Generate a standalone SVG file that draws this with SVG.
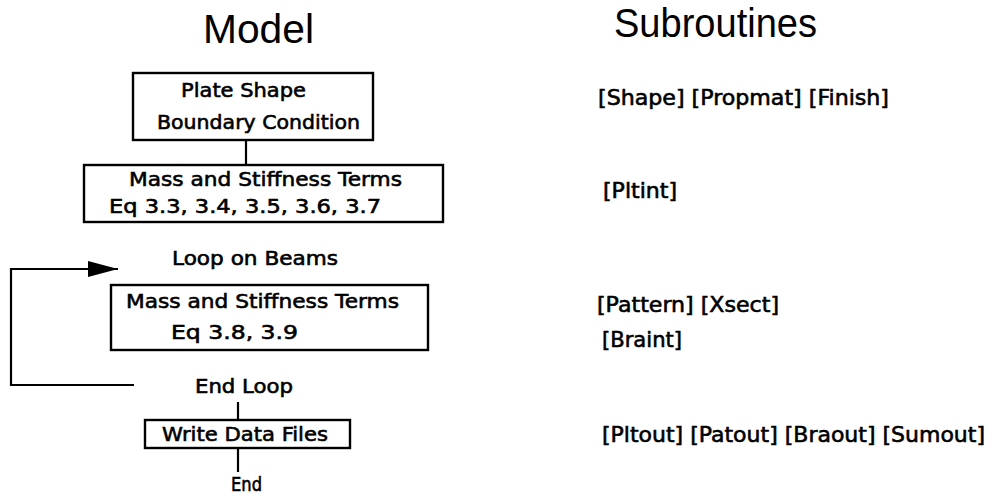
<svg xmlns="http://www.w3.org/2000/svg" width="992" height="496" viewBox="0 0 992 496">
<defs>
<style>
.t{font-family:"DejaVu Sans","Liberation Sans",sans-serif;font-size:20px;fill:#000;stroke:#000;stroke-width:0.6}
.h{font-family:"Liberation Sans","DejaVu Sans",sans-serif;font-size:41px;fill:#000}
.s{font-family:"DejaVu Sans","Liberation Sans",sans-serif;font-size:21px;fill:#000;stroke:#000;stroke-width:0.6}
.box{fill:#fff;stroke:#000;stroke-width:2.4}
.ln{fill:none;stroke:#000;stroke-width:2.2}
</style>
<marker id="ah" markerUnits="userSpaceOnUse" markerWidth="32" markerHeight="16" refX="30" refY="8" orient="auto">
<path d="M0,0 L30,8 L0,16 Z" fill="#000"/>
</marker>
</defs>
<rect width="992" height="496" fill="#fff"/>
<g id="titles">
<text class="h" x="203" y="43" textLength="111" lengthAdjust="spacingAndGlyphs">Model</text>
<text class="h" x="614" y="37" font-size="37" textLength="203" lengthAdjust="spacingAndGlyphs">Subroutines</text>
</g>
<g id="connectors">
<line class="ln" x1="246" y1="140" x2="246" y2="165"/>
<line class="ln" x1="238" y1="402" x2="238" y2="420"/>
<line class="ln" x1="238" y1="448" x2="238" y2="472"/>
<path class="ln" d="M134,385 L11,385 L11,269 L118,269" marker-end="url(#ah)"/>
</g>
<g id="node-plate">
<rect class="box" x="133" y="73" width="240" height="67"/>
<text class="t" x="181" y="97" textLength="125" lengthAdjust="spacingAndGlyphs">Plate Shape</text>
<text class="t" x="157" y="129" textLength="203" lengthAdjust="spacingAndGlyphs">Boundary Condition</text>
</g>
<g id="node-mass1">
<rect class="box" x="84" y="165" width="359" height="57"/>
<text class="t" x="129" y="186" textLength="273" lengthAdjust="spacingAndGlyphs">Mass and Stiffness Terms</text>
<text class="t" x="109" y="213" textLength="272" lengthAdjust="spacingAndGlyphs">Eq 3.3, 3.4, 3.5, 3.6, 3.7</text>
</g>
<g id="node-loop">
<text class="t" x="172" y="265" textLength="166" lengthAdjust="spacingAndGlyphs">Loop on Beams</text>
</g>
<g id="node-mass2">
<rect class="box" x="111" y="285" width="317" height="65"/>
<text class="t" x="126" y="308" textLength="273" lengthAdjust="spacingAndGlyphs">Mass and Stiffness Terms</text>
<text class="t" x="171" y="339" textLength="127" lengthAdjust="spacingAndGlyphs">Eq 3.8, 3.9</text>
</g>
<g id="node-endloop">
<text class="t" x="195" y="393" textLength="98" lengthAdjust="spacingAndGlyphs">End Loop</text>
</g>
<g id="node-write">
<rect class="box" x="145" y="420" width="205" height="28"/>
<text class="t" x="162" y="441" textLength="166" lengthAdjust="spacingAndGlyphs">Write Data Files</text>
</g>
<g id="node-end">
<text class="t" x="231" y="491" textLength="31" lengthAdjust="spacingAndGlyphs">End</text>
</g>
<g id="subroutines">
<text class="s" x="598" y="105" textLength="291" lengthAdjust="spacingAndGlyphs">[Shape] [Propmat] [Finish]</text>
<text class="s" x="603" y="198" textLength="74" lengthAdjust="spacingAndGlyphs">[Pltint]</text>
<text class="s" x="597" y="312" textLength="182" lengthAdjust="spacingAndGlyphs">[Pattern] [Xsect]</text>
<text class="s" x="602" y="347" textLength="80" lengthAdjust="spacingAndGlyphs">[Braint]</text>
<text class="s" x="602" y="442" textLength="383" lengthAdjust="spacingAndGlyphs">[Pltout] [Patout] [Braout] [Sumout]</text>
</g>
</svg>
